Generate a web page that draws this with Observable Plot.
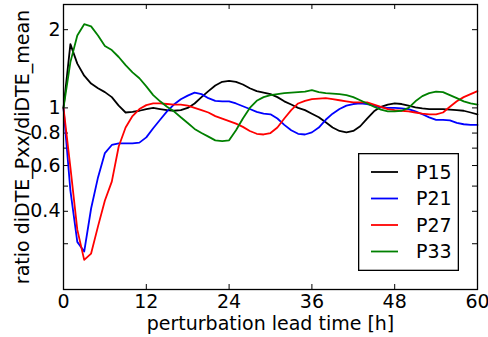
<!DOCTYPE html>
<html><head><meta charset="utf-8">
<script src="https://cdn.jsdelivr.net/npm/d3@7"></script>
<script src="https://cdn.jsdelivr.net/npm/@observablehq/plot@0.6"></script>
<style>
body{margin:0;background:#fff;}
#chart{position:relative;width:488px;height:337px;font-family:"DejaVu Sans",sans-serif;}
#legend{position:absolute;left:358px;top:153px;}
</style></head><body><div id="chart"></div>
<script>
// lead time (h)
const hours = [0,1,2,3,4,5,6,7,8,9,10,11,12,13,14,15,16,17,18,19,20,21,22,23,24,25,26,27,28,29,30,
  31,32,33,34,35,36,37,38,39,40,41,42,43,44,45,46,47,48,49,50,51,52,53,54,55,56,57,58,59,60];

const p15 = [1.0,1.76,1.48,1.33,1.24,1.19,1.15,1.10,1.02,0.96,0.965,0.975,0.99,1.0,0.99,0.98,0.975,0.98,1.0,1.04,
  1.10,1.16,1.22,1.26,1.27,1.26,1.23,1.19,1.16,1.145,1.13,1.10,1.06,1.03,1.0,0.98,0.95,0.92,0.88,0.84,
  0.815,0.805,0.815,0.85,0.91,0.97,1.01,1.03,1.04,1.035,1.02,1.005,0.995,0.99,0.99,0.99,0.985,0.98,0.975,0.96,0.945];
const p21 = [1.0,0.48,0.305,0.28,0.41,0.54,0.67,0.72,0.73,0.73,0.73,0.735,0.77,0.835,0.90,0.97,1.03,1.08,1.115,1.145,
  1.13,1.09,1.065,1.06,1.06,1.04,1.015,0.99,0.965,0.95,0.945,0.91,0.86,0.82,0.795,0.79,0.805,0.84,0.90,0.95,
  0.99,1.02,1.035,1.04,1.035,1.02,1.005,1.0,1.0,0.995,0.99,0.97,0.945,0.92,0.90,0.90,0.895,0.875,0.865,0.86,0.86];
const p27 = [1.0,0.59,0.34,0.26,0.275,0.35,0.44,0.52,0.71,0.84,0.93,0.99,1.025,1.04,1.04,1.035,1.03,1.03,1.02,1.0,
  0.98,0.96,0.93,0.91,0.89,0.87,0.845,0.815,0.795,0.79,0.80,0.84,0.91,0.98,1.04,1.065,1.08,1.085,1.09,1.08,
  1.07,1.06,1.05,1.05,1.05,1.03,1.01,0.99,0.98,0.975,0.97,0.96,0.95,0.945,0.945,0.96,1.01,1.06,1.10,1.13,1.16];
const p33 = [1.0,1.5,1.9,2.1,2.06,1.9,1.73,1.67,1.57,1.46,1.37,1.30,1.21,1.12,1.06,1.01,0.97,0.92,0.875,0.83,
  0.80,0.775,0.75,0.745,0.75,0.82,0.91,1.0,1.065,1.10,1.12,1.13,1.14,1.145,1.15,1.155,1.17,1.15,1.14,1.135,
  1.13,1.12,1.10,1.07,1.04,1.01,0.985,0.97,0.97,0.975,1.0,1.06,1.11,1.14,1.155,1.15,1.12,1.09,1.06,1.04,1.03];

const seriesNames = ["P15","P21","P27","P33"];
const seriesColors = ["#000000","#0000ff","#ff0000","#008000"];
const seriesValues = [p15,p21,p27,p33];

const xTicks = [0,12,24,36,48,60];
const yTicks = [0.3,0.4,0.5,0.6,0.7,0.8,1,2];
const yTickLabels = [0.4,0.6,0.8,1,2];
const xLabel = "perturbation lead time [h]";
const yLabel = "ratio diDTE_Pxx/diDTE_mean";

const rows = [];
seriesNames.forEach((name, s) => {
  seriesValues[s].forEach((v, i) => rows.push({name, t: hours[i], v}));
});

const W = 488, H = 337, mL = 63, mR = 11, mT = 4, mB = 48;
const plotW = W - mL - mR, plotH = H - mT - mB, tick = 5;
const fs = 19;

const chart = Plot.plot({
  width: W, height: H,
  marginLeft: mL, marginRight: mR, marginTop: mT, marginBottom: mB,
  style: {fontFamily: "DejaVu Sans", fontSize: fs + "px", background: "white", color: "black"},
  x: {domain: [0, 60]},
  y: {type: "log", domain: [0.2, 2.5]},
  color: {domain: seriesNames, range: seriesColors},
  marks: [
    Plot.ruleX(xTicks, {x: d => d, stroke: "black", strokeWidth: 1, insetTop: plotH - tick}),
    Plot.ruleX(xTicks, {x: d => d, stroke: "black", strokeWidth: 1, insetBottom: plotH - tick}),
    Plot.ruleY(yTicks, {y: d => d, stroke: "black", strokeWidth: 1, insetRight: plotW - tick}),
    Plot.ruleY(yTicks, {y: d => d, stroke: "black", strokeWidth: 1, insetLeft: plotW - tick}),
    Plot.axisX(xTicks, {tickSize: 0, tickPadding: 5, label: null, fill: "black"}),
    Plot.axisY(yTickLabels, {tickSize: 0, tickPadding: 3, label: null, fill: "black", tickFormat: d => String(d)}),
    Plot.line(rows, {x: "t", y: "v", z: "name", stroke: "name", strokeWidth: 1.8}),
    Plot.frame({stroke: "black", strokeWidth: 1.3}),
    Plot.text([xLabel], {text: d => d, frameAnchor: "bottom", lineAnchor: "middle", textAnchor: "middle", dy: 34, fill: "black"}),
    Plot.text([yLabel], {text: d => d, frameAnchor: "left", lineAnchor: "middle", textAnchor: "middle", rotate: -90, dx: -41, fill: "black"})
  ]
});
const root = document.getElementById("chart");
root.appendChild(chart);

// legend box
const lw = 101, lh = 118;
const leg = d3.select(root).append("div").attr("id", "legend")
  .append("svg").attr("width", lw).attr("height", lh);
leg.append("rect").attr("x", 0.65).attr("y", 0.65).attr("width", lw - 1.3).attr("height", lh - 1.3)
  .attr("fill", "white").attr("stroke", "black").attr("stroke-width", 1.3);
seriesNames.forEach((name, i) => {
  const cy = 19 + i * 26.5;
  leg.append("line").attr("x1", 13).attr("x2", 40).attr("y1", cy).attr("y2", cy)
    .attr("stroke", seriesColors[i]).attr("stroke-width", 1.8);
  leg.append("text").attr("x", 58).attr("y", cy).attr("dy", "0.35em")
    .attr("font-family", "DejaVu Sans").attr("font-size", fs).attr("fill", "black").text(name);
});
</script>
</body></html>
